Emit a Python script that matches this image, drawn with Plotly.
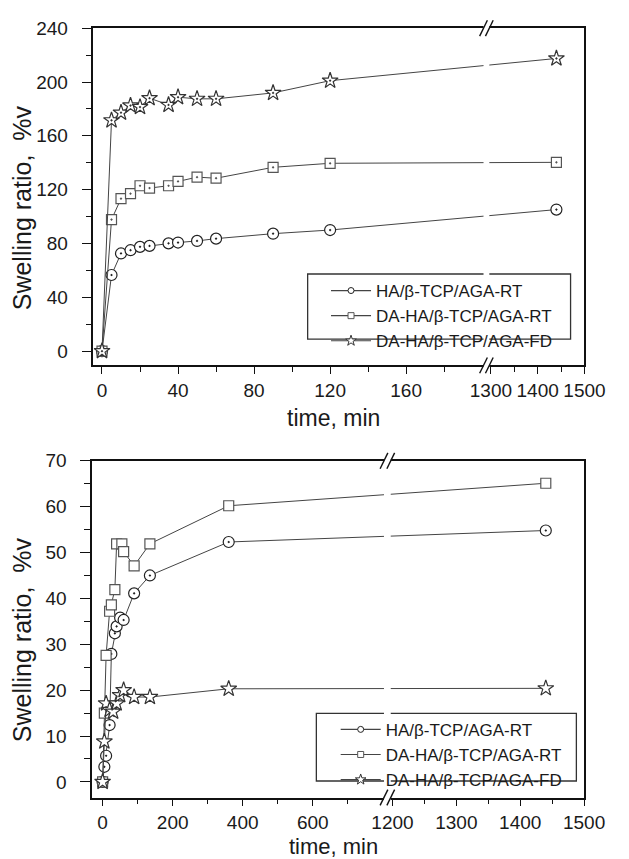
import plotly.graph_objects as go

# ---------------- data ----------------
series_names = ["HA/β-TCP/AGA-RT", "DA-HA/β-TCP/AGA-RT", "DA-HA/β-TCP/AGA-FD"]

top_time = [0, 5, 10, 15, 20, 25, 35, 40, 50, 60, 90, 120, 1440]
top_ha_rt = [0, 56.6, 72.6, 75.0, 77.5, 78.2, 80.1, 80.7, 81.9, 83.6, 87.3, 90.0, 105.2]
top_da_rt = [0, 97.8, 113.3, 117.0, 122.9, 121.2, 122.9, 126.1, 129.3, 128.5, 136.6, 139.6, 140.3]
top_da_fd = [0, 171.5, 177.2, 182.5, 181.4, 188.0, 183.0, 188.7, 187.5, 187.5, 191.9, 201.0, 217.5]

bot_time_ha_rt = [0, 5, 10, 20, 25, 35, 40, 50, 60, 90, 135, 360, 1440]
bot_ha_rt = [0, 3.3, 5.7, 12.4, 27.9, 32.4, 33.9, 35.8, 35.3, 41.1, 45.0, 52.3, 54.8]
bot_time_da_rt = [0, 5, 10, 20, 25, 35, 40, 55, 60, 90, 135, 360, 1440]
bot_da_rt = [0, 15.0, 27.6, 37.2, 38.6, 41.9, 51.9, 51.9, 50.2, 47.1, 51.9, 60.2, 65.1]
bot_time_da_fd = [0, 5, 10, 20, 30, 40, 50, 60, 90, 135, 360, 1440]
bot_da_fd = [0, 8.8, 17.1, 15.7, 15.3, 17.1, 18.9, 20.0, 18.5, 18.5, 20.3, 20.4]

top_xtick_major = [0, 40, 80, 120, 160, 1300, 1400, 1500]
top_xtick_minor = [20, 60, 100, 140, 180, 1350, 1450]
bot_xtick_major = [0, 200, 400, 600, 1200, 1300, 1400, 1500]
bot_xtick_minor = [100, 300, 500, 700, 1250, 1350, 1450]
top_yticks = [0, 40, 80, 120, 160, 200, 240]
bot_yticks = [0, 10, 20, 30, 40, 50, 60, 70]

# ---------------- broken-axis scales ----------------
W, H = 629, 859
OFF = 8  # page body margin compensation
# top panel: segment 1 [-4.5, 200], segment 2 [1300, 1500]
T_K1, T_K2, T_G, T_B1, T_B2, T_MIN, T_MAX = 1.966, 0.484, 9.0, 200, 1300, -4.5, 1500
# bottom panel: segment 1 [-30, 800], segment 2 [1200, 1500]
B_K1, B_K2, B_G, B_B1, B_B2, B_MIN, B_MAX = 0.362, 0.66, 10.0, 800, 1200, -30, 1500


def make_scale(k1, k2, g, b1, b2):
    def f(t):
        if t <= b1:
            return t * k1
        return b1 * k1 + g + (t - b2) * k2
    return f


top_u = make_scale(T_K1, T_K2, T_G, T_B1, T_B2)
bot_u = make_scale(B_K1, B_K2, B_G, B_B1, B_B2)


def px(x):
    return (x - OFF) / W


def py(y):
    return 1 - (y - OFF) / H


# plot areas in pixels (page coordinates)
TOP_BOX = (96.4, 18.3, 604.4, 359.5)
BOT_BOX = (95.0, 456.0, 604.0, 796.7)

FONT = "Arial, Liberation Sans, sans-serif"
TXT = "#1a1a1a"
LINE = "#444444"
AX = "#111111"

styles = [
    dict(symbol="circle", color="#222222", size=11),
    dict(symbol="square", color="#555555", size=10),
    dict(symbol="star", color="#333333", size=12),
]

fig = go.Figure()

top_series = [top_ha_rt, top_da_rt, top_da_fd]
for vals, st in zip(top_series, styles):
    fig.add_trace(go.Scatter(
        x=[top_u(t) for t in top_time], y=vals, mode="lines+markers",
        xaxis="x", yaxis="y", showlegend=False,
        line=dict(color=LINE, width=1),
        marker=dict(symbol=st["symbol"] + "-dot", size=st["size"], color="white",
                    line=dict(color=st["color"], width=1.2)),
    ))

bot_series = [(bot_time_ha_rt, bot_ha_rt), (bot_time_da_rt, bot_da_rt), (bot_time_da_fd, bot_da_fd)]
for (ts, vals), st in zip(bot_series, styles):
    sym = st["symbol"] + ("-dot" if st["symbol"] == "circle" else "")
    fig.add_trace(go.Scatter(
        x=[bot_u(t) for t in ts], y=vals, mode="lines+markers",
        xaxis="x2", yaxis="y2", showlegend=False,
        line=dict(color=LINE, width=1),
        marker=dict(symbol=sym, size=st["size"], color="white",
                    line=dict(color=st["color"], width=1.2)),
    ))

# legend-only entries (small symbols like the original)
leg_sizes = [6, 6, 8]
for lg, xa, ya in [("legend", "x", "y"), ("legend2", "x2", "y2")]:
    for name, st, ls in zip(series_names, styles, leg_sizes):
        fig.add_trace(go.Scatter(
            x=[None], y=[None], mode="lines+markers", name=name, legend=lg,
            xaxis=xa, yaxis=ya,
            line=dict(color=LINE, width=1.2),
            marker=dict(symbol=st["symbol"], size=ls, color="white",
                        line=dict(color=st["color"], width=1)),
        ))

common_axis = dict(showline=True, linecolor=AX, linewidth=1.5, mirror=True,
                   ticks="outside", tickwidth=1.3, tickcolor=AX,
                   showgrid=False, zeroline=False,
                   tickfont=dict(family=FONT, size=19, color=TXT))
xminor = dict(ticks="outside", ticklen=5, tickwidth=1.3, tickcolor=AX, tickmode="array")
yminor = dict(ticks="outside", ticklen=6, tickwidth=1.3, tickcolor=AX)

fig.update_layout(
    width=W, height=H, paper_bgcolor="white", plot_bgcolor="white",
    margin=dict(l=0, r=0, t=0, b=0),
    xaxis=dict(common_axis, domain=[px(TOP_BOX[0]), px(TOP_BOX[2])], anchor="y",
               range=[top_u(T_MIN), top_u(T_MAX)], tickmode="array", ticklen=7,
               tickvals=[top_u(t) for t in top_xtick_major],
               ticktext=[str(t) for t in top_xtick_major], ticklabelstandoff=0,
               minor=dict(xminor, tickvals=[top_u(t) for t in top_xtick_minor])),
    yaxis=dict(common_axis, domain=[py(TOP_BOX[3]), py(TOP_BOX[1])], anchor="x",
               range=[-10.6, 240], tickmode="array", tickvals=top_yticks, ticklen=10,
               ticklabelstandoff=10,
               minor=dict(yminor, dtick=20, tick0=0)),
    xaxis2=dict(common_axis, domain=[px(BOT_BOX[0]), px(BOT_BOX[2])], anchor="y2",
                range=[bot_u(B_MIN), bot_u(B_MAX)], tickmode="array", ticklen=7,
                tickvals=[bot_u(t) for t in bot_xtick_major],
                ticktext=[str(t) for t in bot_xtick_major], ticklabelstandoff=0,
                minor=dict(xminor, tickvals=[bot_u(t) for t in bot_xtick_minor])),
    yaxis2=dict(common_axis, domain=[py(BOT_BOX[3]), py(BOT_BOX[1])], anchor="x2",
                range=[-3.4, 70], tickmode="array", tickvals=bot_yticks, ticklen=10,
                ticklabelstandoff=10,
                minor=dict(yminor, dtick=5, tick0=0)),
    legend=dict(x=px(337), y=py(266), xanchor="left", yanchor="top",
                bgcolor="rgba(0,0,0,0)", borderwidth=0, itemwidth=40,
                font=dict(family=FONT, size=17, color=TXT), tracegroupgap=0),
    legend2=dict(x=px(347), y=py(710), xanchor="left", yanchor="top",
                 bgcolor="rgba(0,0,0,0)", borderwidth=0, itemwidth=40,
                 font=dict(family=FONT, size=17, color=TXT), tracegroupgap=0),
)

shapes = []
# legend boxes
shapes.append(dict(type="rect", xref="paper", yref="paper", x0=px(318), x1=px(590),
                   y0=py(333), y1=py(267), line=dict(color="#333333", width=1.3),
                   fillcolor="white", layer="above"))
shapes.append(dict(type="rect", xref="paper", yref="paper", x0=px(327), x1=px(596),
                   y0=py(780), y1=py(711.5), line=dict(color="#333333", width=1.3),
                   fillcolor="white", layer="above"))

# axis breaks
for box, ufun, b1, b2, tmin in [(TOP_BOX, top_u, T_B1, T_B2, T_MIN), (BOT_BOX, bot_u, B_B1, B_B2, B_MIN)]:
    umin = ufun(tmin)
    left = box[0] + (ufun(b1) - umin) + 1.5
    right = box[0] + (ufun(b2) - umin) - 1.5
    shapes.append(dict(type="rect", xref="paper", yref="paper", x0=px(left), x1=px(right),
                       y0=py(box[3] + 4), y1=py(box[1] - 4), fillcolor="white",
                       line=dict(width=0), layer="above"))
    for yy in (box[1], box[3]):
        for xx in (left, right):
            shapes.append(dict(type="line", xref="paper", yref="paper",
                               x0=px(xx - 4), y0=py(yy + 8), x1=px(xx + 4), y1=py(yy - 8),
                               line=dict(color=AX, width=1.4), layer="above"))
fig.update_layout(shapes=shapes)

ann_common = dict(xref="paper", yref="paper", showarrow=False,
                  xanchor="center", yanchor="middle", borderpad=0)
annotations = [
    dict(ann_common, text="Swelling ratio,  %v", x=px(22), y=py(200), textangle=-90,
         font=dict(family=FONT, size=25, color=TXT)),
    dict(ann_common, text="Swelling ratio,  %v", x=px(22), y=py(637), textangle=-90,
         font=dict(family=FONT, size=25, color=TXT)),
    dict(ann_common, text="time, min", x=px(345), y=py(412.5),
         font=dict(family=FONT, size=23, color=TXT)),
    dict(ann_common, text="time, min", x=px(345), y=py(846),
         font=dict(family=FONT, size=22, color=TXT)),
]
fig.update_layout(annotations=annotations)

fig.write_html("out.html")
